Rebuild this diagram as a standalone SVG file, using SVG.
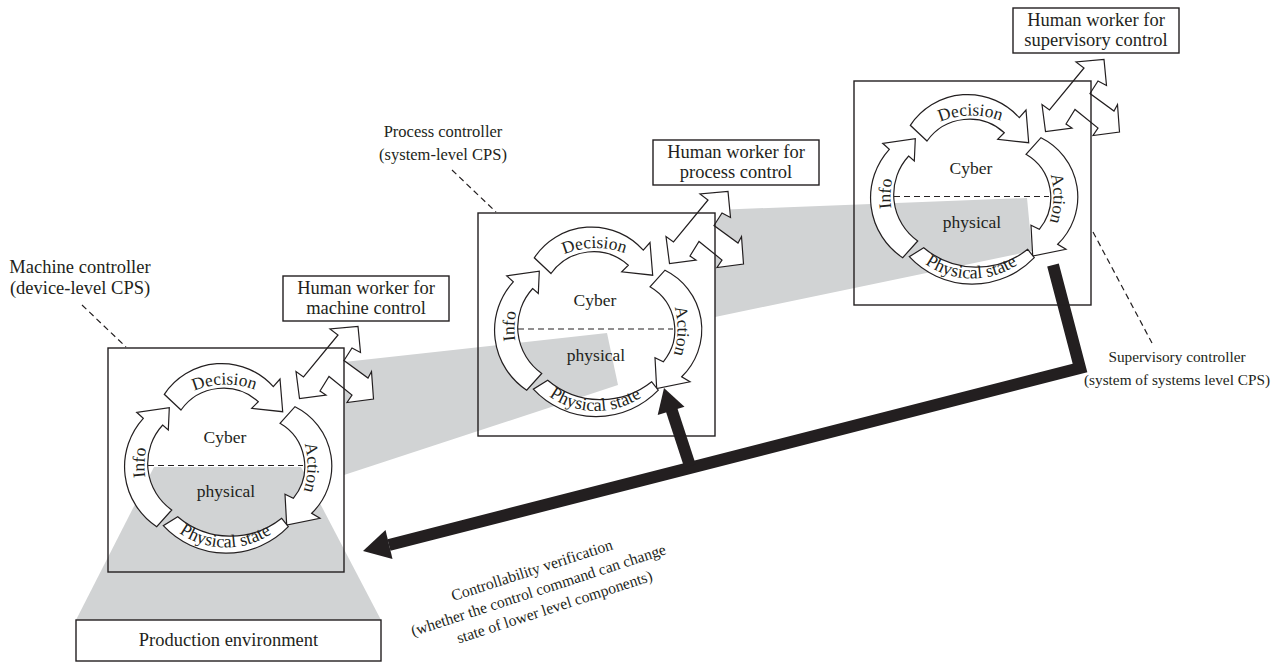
<svg xmlns="http://www.w3.org/2000/svg" xmlns:xlink="http://www.w3.org/1999/xlink" width="1274" height="665" viewBox="0 0 1274 665">
  <style>
    .lbl { font-family: "Liberation Serif", "Times New Roman", serif; font-size: 18.5px; fill: #231f20; }
    .lbl-md { font-family: "Liberation Serif", "Times New Roman", serif; font-size: 16.5px; fill: #231f20; }
    .lbl-sm { font-family: "Liberation Serif", "Times New Roman", serif; font-size: 15.3px; fill: #231f20; }
    .cyc { font-family: "Liberation Serif", "Times New Roman", serif; font-size: 17.5px; fill: #231f20; }
    .cyc-s { font-family: "Liberation Serif", "Times New Roman", serif; font-size: 18px; fill: #231f20; }
    .note { font-family: "Liberation Serif", "Times New Roman", serif; font-size: 15.7px; fill: #231f20; }
    .frame { fill: none; stroke: #231f20; stroke-width: 1.4; }
    .tag { fill: #fff; stroke: #231f20; stroke-width: 1.4; }
    .blk { fill: #fff; stroke: #231f20; stroke-width: 1.2; stroke-linejoin: miter; }
    .shade { fill: #d1d3d4; }
    .dash { fill: none; stroke: #231f20; stroke-width: 1.2; stroke-dasharray: 6 4; }
    .bar { fill: none; stroke: #231f20; stroke-width: 12; stroke-linejoin: miter; }
    .head { fill: #231f20; }
  </style>
  <defs>
    <!-- four block arrows of the Info / Decision / Action / Physical-state loop, box-local coordinates -->
    <path id="loop-decision" d="M56.3,46.3 A69,69 0 0 1 165.3,38.7 L172,31 L174.7,63.7 L143.7,60.3 L150.3,53.7 A52,52 0 0 0 73,62 Z"/>
    <path id="loop-action" d="M187,58.7 A66,66 0 0 1 203.7,165.3 L212,170.3 L178.7,177 L177,146.3 L185.3,150.3 A50,50 0 0 0 172,75.3 Z"/>
    <path id="loop-info" d="M48.7,178.7 A72,72 0 0 1 35.3,70.3 L28.7,64.3 L61.3,59.7 L60.3,82 L54.7,77 A57,57 0 0 0 63.7,162 Z"/>
    <path id="loop-state" d="M55.3,177.7 A86,86 0 0 0 180.3,178.7 L173.7,170.3 A82,82 0 0 1 69.7,168.7 Z"/>
    <!-- baselines for the curved labels -->
    <path id="tp-cw" d="M118,199.5 A81.5,81.5 0 1 1 118,36.5 A81.5,81.5 0 1 1 118,199.5" fill="none"/>
    <path id="tp-ccw" d="M36.5,118 A81.5,81.5 0 1 0 199.5,118 A81.5,81.5 0 1 0 36.5,118" fill="none"/>
    <!-- three-way arrow between a controller and its human worker -->
    <polygon id="fork" points="191.5,50.5 188,23.5 195.5,29 230,-13 222,-19 250,-21.5 252.5,4.5 244,0 236,12.5 260,30 263.5,23.5 265.5,51 239,54.5 244,47 221,28.5 212,43 218,47"/>
  </defs>

  <!-- grey shading linking the physical side of each level -->
  <g id="shading">
    <polygon class="shade" points="154,467 301,467 381,620 76,620"/>
    <polygon class="shade" points="344,362 607,333 618,385 344,475"/>
    <polygon class="shade" points="715,210 1027,198 1032,251 715,317"/>
  </g>

  <g id="connectors">
    <use href="#fork" class="blk" transform="translate(108,348)"/>
    <use href="#fork" class="blk" transform="translate(478,213)"/>
    <use href="#fork" class="blk" transform="translate(854,81)"/>
    <!-- dashed leaders to the controller captions -->
    <line class="dash" x1="82" y1="305" x2="126" y2="347"/>
    <line class="dash" x1="452" y1="170" x2="496" y2="212"/>
    <line class="dash" x1="1093" y1="232" x2="1152" y2="343"/>
    <!-- controllability verification path -->
    <polyline class="bar" points="1053,265 1080,368 389,545"/>
    <polygon class="head" points="363,551 385.5,530 392.5,559"/>
    <line class="bar" x1="690" y1="466" x2="671" y2="408"/>
    <polygon class="head" points="664,388 684.5,406.7 657.7,415.1"/>
  </g>

  <g id="machine-controller">
    <rect class="frame" x="108" y="348" width="236" height="224"/>
    <g transform="translate(108,348)">
      <use href="#loop-decision" class="blk"/>
      <use href="#loop-action" class="blk"/>
      <use href="#loop-info" class="blk"/>
      <use href="#loop-state" class="blk"/>
      <line class="dash" x1="40" y1="117.5" x2="195" y2="117.5"/>
      <text class="cyc" x="117" y="94.5" text-anchor="middle">Cyber</text>
      <text class="cyc" x="118" y="149" text-anchor="middle">physical</text>
      <text class="cyc" text-anchor="middle"><textPath href="#tp-cw" startOffset="254">Decision</textPath></text>
      <text class="cyc" text-anchor="middle"><textPath href="#tp-cw" startOffset="385">Action</textPath></text>
      <text class="cyc" text-anchor="middle"><textPath href="#tp-cw" startOffset="131">Info</textPath></text>
      <text class="cyc-s" text-anchor="middle"><textPath href="#tp-ccw" startOffset="127">Physical state</textPath></text>
    </g>
    <text class="lbl" x="80" y="273" text-anchor="middle">Machine controller</text>
    <text class="lbl" x="80" y="294" text-anchor="middle">(device-level CPS)</text>
  </g>

  <g id="process-controller">
    <rect class="frame" x="478" y="213" width="237" height="223"/>
    <g transform="translate(478,211.5)">
      <use href="#loop-decision" class="blk"/>
      <use href="#loop-action" class="blk"/>
      <use href="#loop-info" class="blk"/>
      <use href="#loop-state" class="blk"/>
      <line class="dash" x1="40" y1="117.5" x2="195" y2="117.5"/>
      <text class="cyc" x="117" y="94.5" text-anchor="middle">Cyber</text>
      <text class="cyc" x="118" y="149" text-anchor="middle">physical</text>
      <text class="cyc" text-anchor="middle"><textPath href="#tp-cw" startOffset="254">Decision</textPath></text>
      <text class="cyc" text-anchor="middle"><textPath href="#tp-cw" startOffset="385">Action</textPath></text>
      <text class="cyc" text-anchor="middle"><textPath href="#tp-cw" startOffset="131">Info</textPath></text>
      <text class="cyc-s" text-anchor="middle"><textPath href="#tp-ccw" startOffset="127">Physical state</textPath></text>
    </g>
    <text class="lbl-md" x="443" y="137" text-anchor="middle">Process controller</text>
    <text class="lbl-md" x="443" y="160" text-anchor="middle">(system-level CPS)</text>
  </g>

  <g id="supervisory-controller">
    <rect class="frame" x="854" y="81" width="237" height="224"/>
    <g transform="translate(854,79)">
      <use href="#loop-decision" class="blk"/>
      <use href="#loop-action" class="blk"/>
      <use href="#loop-info" class="blk"/>
      <use href="#loop-state" class="blk"/>
      <line class="dash" x1="40" y1="117.5" x2="195" y2="117.5"/>
      <text class="cyc" x="117" y="94.5" text-anchor="middle">Cyber</text>
      <text class="cyc" x="118" y="149" text-anchor="middle">physical</text>
      <text class="cyc" text-anchor="middle"><textPath href="#tp-cw" startOffset="254">Decision</textPath></text>
      <text class="cyc" text-anchor="middle"><textPath href="#tp-cw" startOffset="385">Action</textPath></text>
      <text class="cyc" text-anchor="middle"><textPath href="#tp-cw" startOffset="131">Info</textPath></text>
      <text class="cyc-s" text-anchor="middle"><textPath href="#tp-ccw" startOffset="127">Physical state</textPath></text>
    </g>
    <text class="lbl-sm" x="1177" y="362" text-anchor="middle">Supervisory controller</text>
    <text class="lbl-sm" x="1177" y="385" text-anchor="middle">(system of systems level CPS)</text>
  </g>

  <g id="human-machine">
    <rect class="tag" x="283" y="276" width="166" height="45"/>
    <text class="lbl" x="366" y="293.5" text-anchor="middle">Human worker for</text>
    <text class="lbl" x="366" y="314" text-anchor="middle">machine control</text>
  </g>

  <g id="human-process">
    <rect class="tag" x="653" y="140" width="166" height="45"/>
    <text class="lbl" x="736" y="157.5" text-anchor="middle">Human worker for</text>
    <text class="lbl" x="736" y="178" text-anchor="middle">process control</text>
  </g>

  <g id="human-supervisory">
    <rect class="tag" x="1013" y="8" width="166" height="45"/>
    <text class="lbl" x="1096" y="25.5" text-anchor="middle">Human worker for</text>
    <text class="lbl" x="1096" y="46" text-anchor="middle">supervisory control</text>
  </g>

  <g id="production-environment">
    <rect class="tag" x="76" y="620" width="305" height="41"/>
    <text class="lbl" x="228.5" y="646" text-anchor="middle">Production environment</text>
  </g>

  <g id="controllability-note" transform="translate(540,595) rotate(-18)">
    <text class="note" x="0" y="-21" text-anchor="middle">Controllability verification</text>
    <text class="note" x="0" y="0" text-anchor="middle">(whether the control command can change</text>
    <text class="note" x="10" y="21" text-anchor="middle">state of lower level components)</text>
  </g>
</svg>
